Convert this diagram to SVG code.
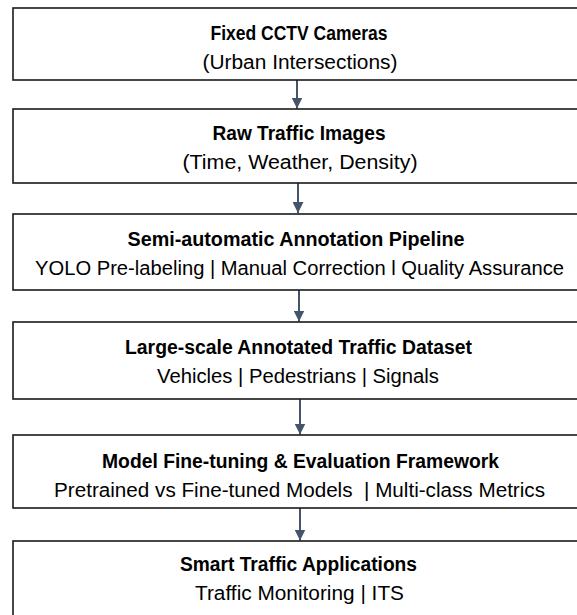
<svg xmlns="http://www.w3.org/2000/svg" width="577" height="615" viewBox="0 0 577 615">
<style>
.box{fill:#fff;stroke:#1a1a1a;stroke-width:1.6}
.t{font-family:"Liberation Sans",Arial,sans-serif;font-weight:bold;font-size:19.5px;fill:#000;text-anchor:middle}
.s{font-family:"Liberation Sans",Arial,sans-serif;font-size:20px;fill:#000;text-anchor:middle;white-space:pre}
.c{stroke:#44546A;stroke-width:2;fill:none}
</style>
<defs>
<marker id="ah" viewBox="0 0 10 10" refX="10" refY="5" markerWidth="5.5" markerHeight="5.5" markerUnits="strokeWidth" orient="auto">
<path d="M0,0 L10,5 L0,10 z" fill="#44546A"/>
</marker>
</defs>
<rect width="577" height="615" fill="#fff"/>
<g id="connectors">
<line class="c" x1="297" y1="80" x2="297" y2="108.5" marker-end="url(#ah)"/>
<line class="c" x1="298" y1="183" x2="298" y2="213" marker-end="url(#ah)"/>
<line class="c" x1="299" y1="290" x2="299" y2="321.5" marker-end="url(#ah)"/>
<line class="c" x1="300" y1="399" x2="300" y2="434.5" marker-end="url(#ah)"/>
<line class="c" x1="300" y1="508" x2="300" y2="540.5" marker-end="url(#ah)"/>
</g>
<g id="n1">
<rect class="box" x="13" y="8" width="572" height="72"/>
<text class="t" x="299" y="40" textLength="177" lengthAdjust="spacingAndGlyphs">Fixed CCTV Cameras</text>
<text class="s" x="300" y="69" textLength="195" lengthAdjust="spacingAndGlyphs">(Urban Intersections)</text>
</g>
<g id="n2">
<rect class="box" x="13" y="109" width="572" height="74"/>
<text class="t" x="299" y="140" textLength="173" lengthAdjust="spacingAndGlyphs">Raw Traffic Images</text>
<text class="s" x="300" y="169" textLength="235" lengthAdjust="spacingAndGlyphs">(Time, Weather, Density)</text>
</g>
<g id="n3">
<rect class="box" x="13" y="214" width="572" height="76"/>
<text class="t" x="296" y="246" textLength="337" lengthAdjust="spacingAndGlyphs">Semi-automatic Annotation Pipeline</text>
<text class="s" x="299.5" y="275" textLength="529" lengthAdjust="spacingAndGlyphs">YOLO Pre-labeling | Manual Correction l Quality Assurance</text>
</g>
<g id="n4">
<rect class="box" x="13" y="322" width="572" height="77"/>
<text class="t" x="298.5" y="354" textLength="347" lengthAdjust="spacingAndGlyphs">Large-scale Annotated Traffic Dataset</text>
<text class="s" x="298" y="383" textLength="282" lengthAdjust="spacingAndGlyphs">Vehicles | Pedestrians | Signals</text>
</g>
<g id="n5">
<rect class="box" x="13" y="435" width="572" height="73"/>
<text class="t" x="300.5" y="468" textLength="397" lengthAdjust="spacingAndGlyphs">Model Fine-tuning &amp; Evaluation Framework</text>
<text class="s" x="299.5" y="497" textLength="491" lengthAdjust="spacingAndGlyphs">Pretrained vs Fine-tuned Models  | Multi-class Metrics</text>
</g>
<g id="n6">
<rect class="box" x="13" y="541" width="572" height="90"/>
<text class="t" x="298.5" y="571" textLength="237" lengthAdjust="spacingAndGlyphs">Smart Traffic Applications</text>
<text class="s" x="299.5" y="600" textLength="209" lengthAdjust="spacingAndGlyphs">Traffic Monitoring | ITS</text>
</g>
</svg>
